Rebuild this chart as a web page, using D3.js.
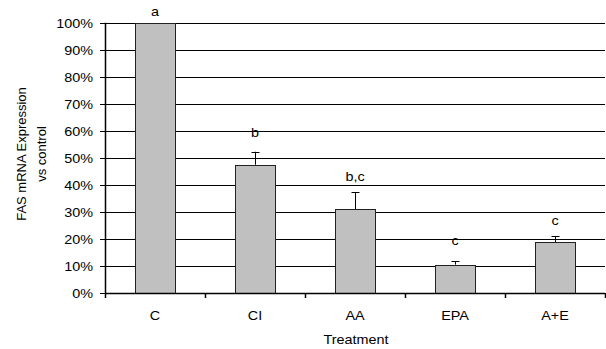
<!DOCTYPE html>
<html><head><meta charset="utf-8">
<script src="https://cdn.jsdelivr.net/npm/d3@7"></script>
<style>body{margin:0;background:#fff;} svg{display:block;font-family:"Liberation Sans",Arial,sans-serif;}</style>
</head><body>
<svg id="c" width="606" height="349"></svg>
<script>
const categories = ["C", "CI", "AA", "EPA", "A+E"];
const values = [100, 47.4, 31, 10.4, 18.7];
const errors = [0, 4.8, 6.2, 1.2, 2.2];
const letters = ["a", "b", "b,c", "c", "c"];
const letterPos = [104, 59.2, 43.2, 19.5, 26.9];
const yTicks = [0,10,20,30,40,50,60,70,80,90,100];

const SX = 1.2; // horizontal stretch of the text in the reference
const svg = d3.select("#c");
const m = {l:105, r:605, t:22.7, b:292.7};
const x = d3.scaleBand().domain(categories).range([m.l, m.r]).paddingInner(0.6).paddingOuter(0.3);
const y = d3.scaleLinear().domain([0,100]).range([m.b, m.t]);

function label(g, tx, ty, txt, anchor) {
  return g.append("text").attr("transform", `translate(${tx},${ty}) scale(${SX},1)`)
    .attr("text-anchor", anchor || "middle").attr("font-size", 12).attr("fill", "#000").text(txt);
}

// gridlines
svg.append("g").selectAll("line").data(yTicks.filter(d=>d>0)).join("line")
  .attr("x1", m.l).attr("x2", m.r).attr("y1", d=>Math.round(y(d))+0.5).attr("y2", d=>Math.round(y(d))+0.5)
  .attr("stroke", "#000").attr("stroke-width", 1);

// bars
svg.append("g").selectAll("rect").data(values).join("rect")
  .attr("x", (d,i)=>Math.round(x(categories[i]))+0.5)
  .attr("y", d=>Math.round(y(d))+0.5)
  .attr("width", x.bandwidth())
  .attr("height", d=>Math.round(y(0))-Math.round(y(d)))
  .attr("fill", "#c0c0c0").attr("stroke", "#222").attr("stroke-width", 1);

// error bars
const eg = svg.append("g").attr("stroke", "#000").attr("stroke-width", 1);
values.forEach((v,i)=>{
  if(!errors[i]) return;
  const cx = Math.round(x(categories[i]) + x.bandwidth()/2)+0.5;
  eg.append("line").attr("x1", cx).attr("x2", cx).attr("y1", y(v)).attr("y2", y(v+errors[i]));
  eg.append("line").attr("x1", cx-4).attr("x2", cx+4).attr("y1", Math.round(y(v+errors[i]))+0.5).attr("y2", Math.round(y(v+errors[i]))+0.5);
});

// letters
const lg = svg.append("g");
letters.forEach((t,i)=>{
  label(lg, x(categories[i]) + x.bandwidth()/2, y(letterPos[i]) + 4.5, t);
});

// y axis
const yg = svg.append("g");
yg.append("line").attr("x1", m.l+0.5).attr("x2", m.l+0.5).attr("y1", m.t).attr("y2", m.b+1).attr("stroke", "#000").attr("stroke-width", 1.5);
yTicks.forEach(d=>{
  const yy = Math.round(y(d))+0.5;
  yg.append("line").attr("x1", m.l-5).attr("x2", m.l+3).attr("y1", yy).attr("y2", yy).attr("stroke", "#000").attr("stroke-width", 1);
  label(yg, 93, yy+4.3, d+"%", "end");
});

// x axis
const boundaries = d3.range(categories.length+1).map(i=>m.l + i*x.step());
const xg = svg.append("g");
xg.append("line").attr("x1", m.l).attr("x2", m.r).attr("y1", Math.round(m.b)+0.5).attr("y2", Math.round(m.b)+0.5).attr("stroke", "#000").attr("stroke-width", 1.5);
xg.selectAll("line.t").data(boundaries).join("line").attr("class","t")
  .attr("x1", d=>Math.round(d)+0.5).attr("x2", d=>Math.round(d)+0.5)
  .attr("y1", Math.round(m.b)).attr("y2", Math.round(m.b)+5).attr("stroke", "#000").attr("stroke-width", 1.5);
categories.forEach(c=>label(xg, x(c)+x.bandwidth()/2, 319.5, c));

label(svg, 356, 343.5, "Treatment");

const yl = svg.append("text").attr("transform", "translate(31,154) rotate(-90)").attr("text-anchor", "middle").attr("font-size", 13).attr("fill", "#000");
yl.append("tspan").attr("x", 0).attr("y", -5.5).text("FAS mRNA Expression");
yl.append("tspan").attr("x", 0).attr("y", 15).text("vs control");
</script>
</body></html>
